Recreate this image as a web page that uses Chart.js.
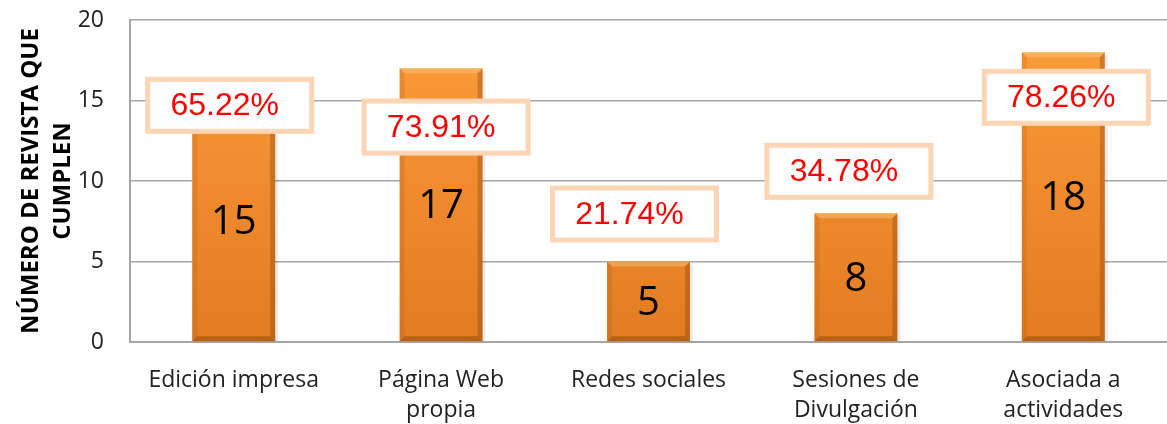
<!DOCTYPE html>
<html>
<head>
<meta charset="utf-8">
<script src="https://cdn.jsdelivr.net/npm/chart.js@4"></script>
<style>
  html, body { margin: 0; padding: 0; background: #fff; }
  #wrap { width: 1167px; height: 424px; }
</style>
</head>
<body>
<div id="wrap"><canvas id="grafico"></canvas></div>
<script>
const categorias = [["Edición impresa"], ["Página Web", "propia"], ["Redes sociales"], ["Sesiones de", "Divulgación"], ["Asociada a", "actividades"]];
const revistas = [15, 17, 5, 8, 18];
const porcentajes = ["65.22%", "73.91%", "21.74%", "34.78%", "78.26%"];
// altura (en unidades del eje) donde va centrada cada caja de porcentaje
const alturaCaja = [14.7, 13.35, 7.95, 10.6, 15.2];
const desplazCaja = [-4, 5, -14, -7, 3];

const ctx = document.getElementById("grafico").getContext("2d");

const barrasBisel = {
  id: "barrasBisel",
  afterDatasetDraw(chart, args) {
    const c = chart.ctx;
    args.meta.data.forEach((bar) => {
      const l = bar.x - bar.width / 2, r = bar.x + bar.width / 2;
      const t = bar.y, b = bar.base, e = 5;
      c.save();
      // lado izquierdo
      c.fillStyle = "rgba(170,85,15,0.2)";
      c.beginPath(); c.moveTo(l, t); c.lineTo(l + e, t + e); c.lineTo(l + e, b - e); c.lineTo(l, b); c.fill();
      // lado derecho
      c.fillStyle = "rgba(130,65,5,0.35)";
      c.beginPath(); c.moveTo(r, t); c.lineTo(r - e, t + e); c.lineTo(r - e, b - e); c.lineTo(r, b); c.fill();
      // arriba
      c.fillStyle = "rgba(255,220,150,0.35)";
      c.beginPath(); c.moveTo(l, t); c.lineTo(r, t); c.lineTo(r - e, t + e); c.lineTo(l + e, t + e); c.fill();
      // abajo
      c.fillStyle = "rgba(120,60,5,0.4)";
      c.beginPath(); c.moveTo(l, b); c.lineTo(r, b); c.lineTo(r - e, b - e); c.lineTo(l + e, b - e); c.fill();
      // sombra suave a la derecha
      c.fillStyle = "rgba(0,0,0,0.08)";
      c.fillRect(r, t + 3, 3, b - t - 3);
      c.restore();
    });
  },
  afterDatasetsDraw(chart) {
    const c = chart.ctx;
    const meta = chart.getDatasetMeta(0);
    const y = chart.scales.y;
    meta.data.forEach((bar, i) => {
      // valor dentro de la barra
      c.save();
      c.font = "40px 'Open Sans'";
      c.fillStyle = "#000";
      c.textAlign = "center";
      c.textBaseline = "middle";
      c.fillText(String(revistas[i]), bar.x, (bar.y + bar.base) / 2 + 2);
      // caja con porcentaje
      const cx = bar.x + desplazCaja[i];
      const cy = y.getPixelForValue(alturaCaja[i]);
      const w = 164, h = 52;
      c.fillStyle = "#fff";
      c.strokeStyle = "#fcd5b4";
      c.lineWidth = 5;
      c.fillRect(cx - w / 2, cy - h / 2, w, h);
      c.strokeRect(cx - w / 2, cy - h / 2, w, h);
      c.font = "32px 'Liberation Sans'";
      c.fillStyle = "#ff0000";
      c.fillText(porcentajes[i], cx - 5, cy + 1);
      c.restore();
    });
  }
};

new Chart(ctx, {
  type: "bar",
  data: {
    labels: categorias,
    datasets: [{
      data: revistas,
      backgroundColor: (context) => {
        const area = context.chart.chartArea;
        if (!area) return "#f7922e";
        const g = context.chart.ctx.createLinearGradient(0, area.top, 0, area.bottom);
        g.addColorStop(0, "#fd9d3a");
        g.addColorStop(1, "#e27b22");
        return g;
      },
      borderWidth: 0,
      barPercentage: 0.4,
      categoryPercentage: 1
    }]
  },
  options: {
    responsive: true,
    maintainAspectRatio: false,
    animation: false,
    layout: { padding: { top: 20, right: 0, left: 16, bottom: 0 } },
    plugins: {
      legend: { display: false },
      tooltip: { enabled: false }
    },
    scales: {
      x: {
        grid: { display: false },
        border: { display: true, color: "#a6a6a6", width: 2 },
        ticks: {
          color: "#222",
          font: { family: "Open Sans", size: 23, lineHeight: 1.3 },
          padding: 16,
          maxRotation: 0
        },
        afterFit: (s) => { s.height = 82; s.paddingLeft = 0; s.paddingRight = 0; }
      },
      y: {
        min: 0,
        max: 20,
        ticks: {
          stepSize: 5,
          color: "#222",
          font: { family: "Open Sans", size: 23 },
          padding: 26
        },
        grid: { color: "#a6a6a6", lineWidth: 1.5, drawTicks: false },
        border: { display: true, color: "#a6a6a6", width: 2 },
        title: {
          display: true,
          text: ["NÚMERO DE REVISTA QUE", "CUMPLEN"],
          color: "#000",
          font: { family: "Open Sans", size: 24, weight: "bold", lineHeight: 1.3 },
          padding: { top: 0, bottom: 4 }
        },
        afterFit: (s) => { s.width = 114; s.paddingTop = 0; s.paddingBottom = 0; }
      }
    }
  },
  plugins: [barrasBisel]
});
</script>
</body>
</html>
